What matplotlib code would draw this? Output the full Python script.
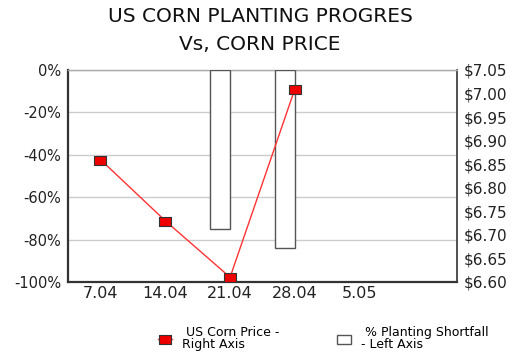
import matplotlib
matplotlib.use("Agg")
import matplotlib.pyplot as plt
import numpy as np
from matplotlib.lines import Line2D
from matplotlib.patches import Patch

plt.rcParams['font.family'] = ['DejaVu Sans']

categories = ["7.04", "14.04", "21.04", "28.04", "5.05", ""]
shortfall = [np.nan, np.nan, -75, -84, np.nan, np.nan]
price = [6.86, 6.73, 6.61, 7.01, np.nan, np.nan]

W, H = 520, 363
fig = plt.figure(figsize=(W/100, H/100), dpi=100)
ax = fig.add_axes([68/W, 81/H, 389/W, 212/H])
x = np.arange(len(categories))
bw = 0.31
ax.bar(x - bw/2, shortfall, width=bw, color='white', edgecolor='#555555', linewidth=1.0, zorder=3)
ax.set_ylim(-100, 0)
ax.set_xlim(-0.5, len(categories) - 0.5)
ax.set_yticks(np.arange(-100, 1, 20))
ax.set_yticklabels([f"{v}%" for v in range(-100, 1, 20)], fontsize=10.5, color='#222222')
ax.set_xticks(x)
ax.set_xticklabels(categories, fontsize=11.5, color='#222222')
ax.tick_params(axis='x', length=0, pad=3)
ax.tick_params(axis='y', length=0, pad=5)
ax.grid(axis='y', color='#cccccc', linewidth=1.0, zorder=0)
ax.set_axisbelow(True)
for s in ['left', 'bottom']:
    ax.spines[s].set_color('#333333')
    ax.spines[s].set_linewidth(1.6)
ax.spines['top'].set_color('#aaaaaa')
ax.spines['top'].set_linewidth(1.0)
ax.spines['right'].set_color('#333333')
ax.spines['right'].set_linewidth(1.2)

rect = [(-1, -0.72), (1, -0.72), (1, 0.72), (-1, 0.72), (-1, -0.72)]
ax2 = ax.twinx()
ax2.plot(x, price, color='#ff3333', linewidth=1.0, marker=rect, markersize=9,
         markerfacecolor='#ee0000', markeredgecolor='#333333', markeredgewidth=0.8, zorder=5)
ax2.set_ylim(6.60, 7.05)
yt = np.round(np.arange(6.60, 7.051, 0.05), 2)
ax2.set_yticks(yt)
ax2.set_yticklabels([f"${v:.2f}" for v in yt], fontsize=11, color='#222222')
ax2.tick_params(axis='y', length=0, pad=5)
for s in ax2.spines.values():
    s.set_visible(False)

fig.text(0.5, 1 - 17/H, "US CORN PLANTING PROGRES", ha='center', va='center', fontsize=14.5, color='#111111')
fig.text(0.5, 1 - 44/H, "Vs, CORN PRICE", ha='center', va='center', fontsize=14.5, color='#111111')

h1 = Line2D([0], [0], color='#ff3333', linewidth=1.0, marker=rect, markersize=9,
            markerfacecolor='#ee0000', markeredgecolor='#333333', markeredgewidth=0.8)
h2 = Patch(facecolor='white', edgecolor='#555555', linewidth=1.0)
leg1 = fig.legend([h1], [" US Corn Price -\nRight Axis"], loc='upper left',
                  bbox_to_anchor=(158/W, 1 - 326/H), frameon=False, fontsize=9,
                  handlelength=1.1, handletextpad=0.8, borderpad=0, borderaxespad=0,
                  labelspacing=0.1)
leg2 = fig.legend([h2], [" % Planting Shortfall\n- Left Axis"], loc='upper left',
                  bbox_to_anchor=(337/W, 1 - 326/H), frameon=False, fontsize=9,
                  handlelength=1.1, handleheight=0.7, handletextpad=0.8, borderpad=0,
                  borderaxespad=0, labelspacing=0.1)
for lg in (leg1, leg2):
    for t in lg.get_texts():
        t.set_linespacing(0.9)

fig.savefig("out.png", dpi=100)
